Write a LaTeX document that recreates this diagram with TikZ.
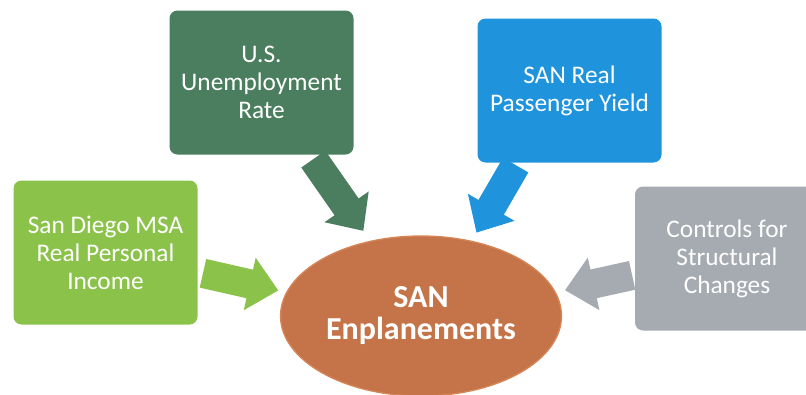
\documentclass[tikz,border=0pt]{standalone}
\usepackage{fontspec}
\setmainfont{Carlito}
\usetikzlibrary{arrows.meta,shapes.geometric}
\definecolor{incgreen}{RGB}{139,195,74}
\definecolor{empgreen}{RGB}{74,126,94}
\definecolor{yldblue}{RGB}{31,148,220}
\definecolor{ctlgray}{RGB}{165,171,176}
\definecolor{sanorange}{RGB}{196,116,72}
\definecolor{sanrim}{RGB}{214,134,86}

\begin{document}
\begin{tikzpicture}[x=0.75pt,y=-0.75pt,
  box/.style={rounded corners=6pt,minimum width=138pt,minimum height=108pt,inner sep=2pt,
    align=center,text=white,font=\fontsize{19}{21}\selectfont},
  fat/.style={line width=22pt,-{Triangle[length=22pt,width=39pt]}}]
\clip (0,0) rectangle (806,394);
% input boxes
\node[box,fill=incgreen] (inc) at (105.5,252.5) {San Diego MSA\\Real Personal\\Income};
\node[box,fill=empgreen] (emp) at (261.5,82.5) {U.S.\\Unemployment\\Rate};
\node[box,fill=yldblue] (yld) at (569.5,90.5) {SAN Real\\Passenger Yield};
\node[box,fill=ctlgray] (ctl) at (727,258.5) {Controls for\\Structural\\Changes};
% hub
\node[ellipse,fill=sanorange,draw=sanrim,line width=1pt,minimum width=207pt,minimum height=120pt,
  align=center,text=white,font=\fontsize{24}{24}\selectfont\bfseries] (san) at (421,316) {SAN\\Enplanements};
% arrows
\draw[fat,incgreen,shorten <=4pt,shorten >=6pt] (inc.-12) -- (san.170);
\draw[fat,empgreen,shorten <=4pt,shorten >=9pt] (emp.-56) -- (san.124);
\draw[fat,yldblue,shorten <=2pt,shorten >=7pt] (yld.-126) -- (san.56);
\draw[fat,ctlgray,shorten <=2pt,shorten >=7pt] (ctl.-170) -- (san.10);
\end{tikzpicture}
\end{document}
